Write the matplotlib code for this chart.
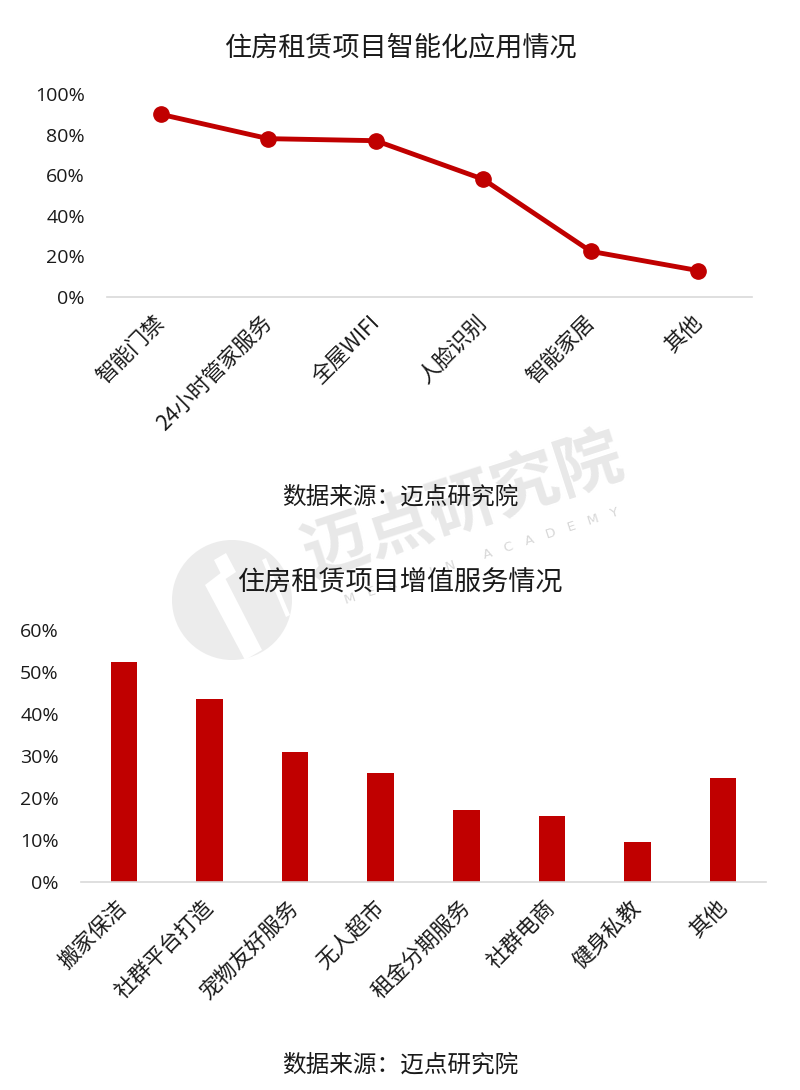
import matplotlib
matplotlib.use('Agg')
import matplotlib.pyplot as plt
from matplotlib.ticker import FixedLocator, FuncFormatter
from matplotlib.patches import Circle, Polygon

plt.rcParams['font.family'] = ['Noto Sans CJK SC', 'DejaVu Sans']

# Smart-feature adoption in rental housing projects (%)
smart_categories = ['智能门禁', '24小时管家服务', '全屋WIFI', '人脸识别', '智能家居', '其他']
smart_values = [90, 78, 77, 58, 22.5, 13]
smart_ticks = [0, 20, 40, 60, 80, 100]

# Value-added services in rental housing projects (%)
service_categories = ['搬家保洁', '社群平台打造', '宠物友好服务', '无人超市',
                      '租金分期服务', '社群电商', '健身私教', '其他']
service_values = [52.5, 43.5, 31, 26, 17.2, 15.8, 9.5, 24.8]
service_ticks = [0, 10, 20, 30, 40, 50, 60]

title_top = '住房租赁项目智能化应用情况'
title_bottom = '住房租赁项目增值服务情况'
source_text = '数据来源：迈点研究院'

RED = '#C00000'
TEXT = '#1a1a1a'
GRID = '#D9D9D9'

W, H = 800, 1090
fig = plt.figure(figsize=(W / 100, H / 100), dpi=100)
fig.patch.set_facecolor('white')

# Watermark layer in pixel coordinates
wm = fig.add_axes([0, 0, 1, 1], zorder=0)
wm.set_xlim(0, W)
wm.set_ylim(H, 0)
wm.axis('off')
wm.add_patch(Circle((232, 600), 60, facecolor='#ECECEC', edgecolor='none'))
wm.add_patch(Polygon([(205, 585), (222, 572), (262, 650), (245, 660)],
                     closed=True, facecolor='white', edgecolor='none'))
wm.add_patch(Polygon([(214, 560), (226, 553), (236, 572), (224, 580)],
                     closed=True, facecolor='white', edgecolor='none'))
wm.add_patch(Polygon([(262, 560), (266, 558), (290, 615), (286, 617)],
                     closed=True, facecolor='white', edgecolor='none'))
wm.text(463, 506, '迈点研究院', fontsize=48, fontweight='bold', color='#E8E8E8',
        rotation=18, ha='center', va='center', rotation_mode='anchor')
wm.text(482, 556, 'M   E   A   D   I   N       A   C   A   D   E   M   Y',
        fontsize=9.5, color='#D8D8D8', rotation=18, ha='center', va='center',
        rotation_mode='anchor', family=['DejaVu Sans'])


def style_axes(ax, ticks):
    ax.set_facecolor('none')
    for side in ('top', 'right', 'left'):
        ax.spines[side].set_visible(False)
    ax.spines['bottom'].set_color(GRID)
    ax.spines['bottom'].set_linewidth(1.2)
    ax.yaxis.set_major_locator(FixedLocator(ticks))
    ax.yaxis.set_major_formatter(FuncFormatter(lambda v, _: f'{v:.0f}%'))
    ax.tick_params(axis='y', length=0, pad=16, labelcolor=TEXT)
    ax.tick_params(axis='x', length=0, pad=16, labelcolor=TEXT)
    for lbl in ax.get_yticklabels():
        lbl.set_fontfamily(['Open Sans', 'DejaVu Sans'])
        lbl.set_fontsize(14)


# Top: line chart
ax1 = fig.add_axes([107 / W, 1 - 297 / H, 645 / W, 203 / H], zorder=2)
x1 = range(len(smart_categories))
ax1.plot(x1, smart_values, color=RED, linewidth=3.5, marker='o',
         markersize=11, clip_on=False)
ax1.set_xlim(-0.5, len(smart_categories) - 0.5)
ax1.set_ylim(0, 100)
ax1.set_xticks(list(x1))
ax1.set_xticklabels(smart_categories, rotation=45, ha='right', va='center',
                    rotation_mode='anchor', fontsize=15.5)
style_axes(ax1, smart_ticks)

# Bottom: bar chart
ax2 = fig.add_axes([81 / W, 1 - 882 / H, 685 / W, 252 / H], zorder=2)
x2 = range(len(service_categories))
ax2.bar(x2, service_values, width=0.31, color=RED)
ax2.set_xlim(-0.5, len(service_categories) - 0.5)
ax2.set_ylim(0, 60)
ax2.set_xticks(list(x2))
ax2.set_xticklabels(service_categories, rotation=45, ha='right', va='center',
                    rotation_mode='anchor', fontsize=15.5)
style_axes(ax2, service_ticks)

# Titles and source notes
fig.text(0.5, 1 - 48 / H, title_top, ha='center', va='center', fontsize=19.5, color=TEXT)
fig.text(0.5, 1 - 497 / H, source_text, ha='center', va='center', fontsize=17, color=TEXT)
fig.text(0.5, 1 - 583 / H, title_bottom, ha='center', va='center', fontsize=19.5, color=TEXT)
fig.text(0.5, 1 - 1065 / H, source_text, ha='center', va='center', fontsize=17, color=TEXT)

fig.savefig('out.png', dpi=100, facecolor='white')
